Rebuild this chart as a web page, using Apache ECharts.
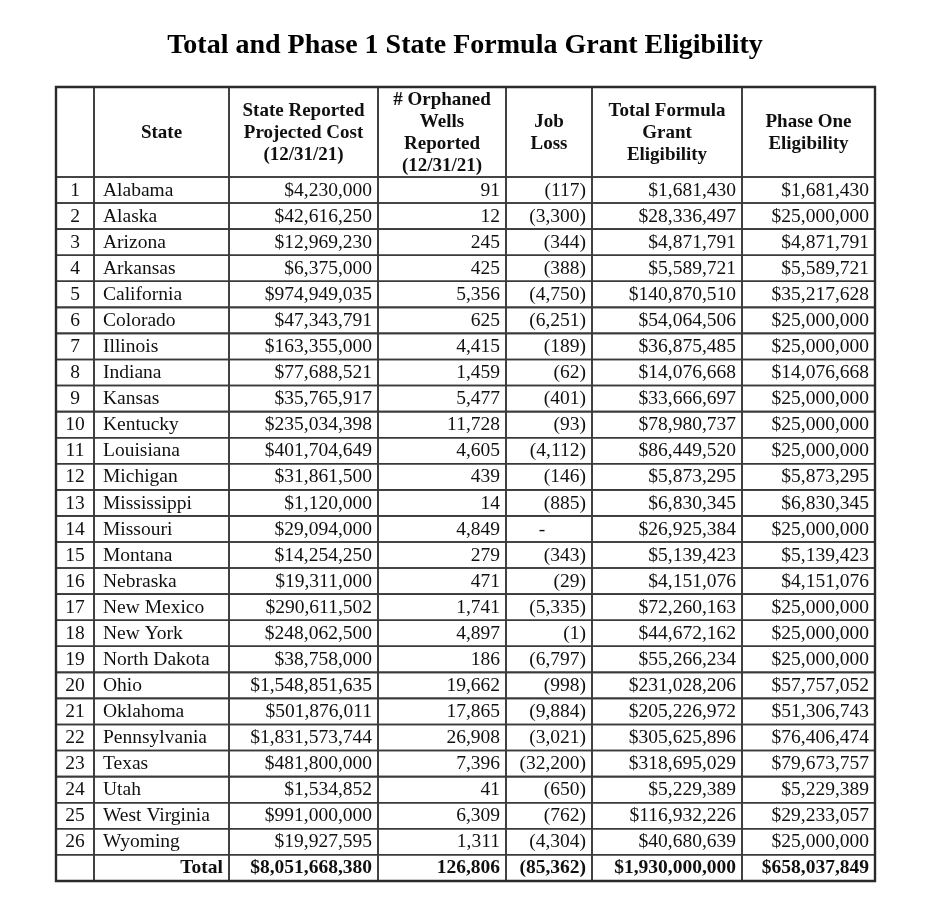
<!DOCTYPE html>
<html><head><meta charset="utf-8">
<script src="https://cdn.jsdelivr.net/npm/echarts@6/dist/echarts.min.js"></script>
<style>html,body{margin:0;background:#fff}#c{width:930px;height:910px}</style>
</head><body><div id="c"></div>
<script>
const rowNumbers = [1,2,3,4,5,6,7,8,9,10,11,12,13,14,15,16,17,18,19,20,21,22,23,24,25,26];
const states = ['Alabama','Alaska','Arizona','Arkansas','California','Colorado','Illinois','Indiana','Kansas','Kentucky','Louisiana','Michigan','Mississippi','Missouri','Montana','Nebraska','New Mexico','New York','North Dakota','Ohio','Oklahoma','Pennsylvania','Texas','Utah','West Virginia','Wyoming'];
const projectedCost = [4230000,42616250,12969230,6375000,974949035,47343791,163355000,77688521,35765917,235034398,401704649,31861500,1120000,29094000,14254250,19311000,290611502,248062500,38758000,1548851635,501876011,1831573744,481800000,1534852,991000000,19927595];
const orphanedWells = [91,12,245,425,5356,625,4415,1459,5477,11728,4605,439,14,4849,279,471,1741,4897,186,19662,17865,26908,7396,41,6309,1311];
const jobLoss = [-117,-3300,-344,-388,-4750,-6251,-189,-62,-401,-93,-4112,-146,-885,0,-343,-29,-5335,-1,-6797,-998,-9884,-3021,-32200,-650,-762,-4304];
const totalEligibility = [1681430,28336497,4871791,5589721,140870510,54064506,36875485,14076668,33666697,78980737,86449520,5873295,6830345,26925384,5139423,4151076,72260163,44672162,55266234,231028206,205226972,305625896,318695029,5229389,116932226,40680639];
const phaseOneEligibility = [1681430,25000000,4871791,5589721,35217628,25000000,25000000,14076668,25000000,25000000,25000000,5873295,6830345,25000000,5139423,4151076,25000000,25000000,25000000,57757052,51306743,76406474,79673757,5229389,29233057,25000000];
const totalLabel = 'Total';
const totalRow = [8051668380,126806,-85362,1930000000,658037849];
const headers = ['', 'State', 'State Reported\nProjected Cost\n(12/31/21)', '# Orphaned\nWells\nReported\n(12/31/21)', 'Job\nLoss', 'Total Formula\nGrant\nEligibility', 'Phase One\nEligibility'];
const titleText = 'Total and Phase 1 State Formula Grant Eligibility';

// layout (pixel units of the table scale)
const colEdges = [0,38,173,322,450,536,686,819];
const headerH = 90, rowH = 26.07, tableH = 794;
const FONT = "'Liberation Serif','Times New Roman',serif";
const INK = '#101010';
const LINE = '#3a3a3a';

const fmt = v => Math.abs(v).toLocaleString('en-US');
const money = v => '$' + fmt(v);
const loss = v => v === 0 ? '-' : '(' + fmt(v) + ')';

function cellsFor(i) {
  if (i === 0) return headers.map(h => ({text: h, align: 'center', bold: true, header: true}));
  if (i === states.length + 1) {
    return [
      {text: '', align: 'center'},
      {text: totalLabel, align: 'right', bold: true},
      {text: money(totalRow[0]), align: 'right', bold: true},
      {text: fmt(totalRow[1]), align: 'right', bold: true},
      {text: loss(totalRow[2]), align: 'right', bold: true},
      {text: money(totalRow[3]), align: 'right', bold: true},
      {text: money(totalRow[4]), align: 'right', bold: true}
    ];
  }
  const r = i - 1;
  return [
    {text: String(rowNumbers[r]), align: 'center'},
    {text: states[r], align: 'left'},
    {text: money(projectedCost[r]), align: 'right'},
    {text: fmt(orphanedWells[r]), align: 'right'},
    {text: loss(jobLoss[r]), align: jobLoss[r] === 0 ? 'dash' : 'right'},
    {text: money(totalEligibility[r]), align: 'right'},
    {text: money(phaseOneEligibility[r]), align: 'right'}
  ];
}

function renderRow(params, api) {
  const i = params.dataIndex;
  const y0 = i === 0 ? 0 : headerH + (i - 1) * rowH;
  const y1 = i === 0 ? headerH : headerH + i * rowH;
  const children = [];
  const cells = cellsFor(i);
  for (let c = 0; c < 7; c++) {
    const p0 = api.coord([colEdges[c], y0]);
    const p1 = api.coord([colEdges[c + 1], y1]);
    const x = p0[0], y = Math.min(p0[1], p1[1]);
    const w = p1[0] - p0[0], h = Math.abs(p1[1] - p0[1]);
    children.push({type: 'rect', shape: {x, y, width: w, height: h},
      style: {fill: 'none', stroke: LINE, lineWidth: 1.6}});
    const cell = cells[c];
    if (!cell.text) continue;
    let tx, al = cell.align;
    if (al === 'center') tx = x + w / 2;
    else if (al === 'left') tx = x + 9;
    else if (al === 'dash') { tx = x + w - 50; al = 'center'; }
    else tx = x + w - 6;
    children.push({type: 'text', style: {
      text: cell.text, x: tx, y: y + h / 2 + (cell.header ? 1 : 0.5),
      align: al, verticalAlign: 'middle',
      fontFamily: FONT, fontSize: cell.header ? 19 : 19.5,
      fontWeight: cell.bold ? 'bold' : 'normal',
      lineHeight: 22, fill: INK
    }});
  }
  return {type: 'group', children};
}

function renderBorder(params, api) {
  const p0 = api.coord([colEdges[0], 0]);
  const p1 = api.coord([colEdges[colEdges.length - 1], tableH]);
  return {type: 'rect', shape: {x: p0[0], y: p0[1], width: p1[0] - p0[0], height: p1[1] - p0[1]},
    style: {fill: 'none', stroke: '#2a2a2a', lineWidth: 2.4}};
}

const rowsData = [];
for (let i = 0; i < states.length + 2; i++) rowsData.push([0, i]);

const chart = echarts.init(document.getElementById('c'), null, {renderer: 'canvas'});
chart.setOption({
  animation: false,
  backgroundColor: '#fff',
  title: {text: titleText, left: 'center', top: 27,
    textStyle: {fontFamily: FONT, fontWeight: 'bold', fontSize: 28, color: '#000'}},
  grid: {left: 56, top: 87, width: 819, height: 794},
  xAxis: {type: 'value', min: 0, max: colEdges[colEdges.length - 1], show: false},
  yAxis: {type: 'value', min: 0, max: tableH, inverse: true, show: false},
  series: [
    {type: 'custom', renderItem: renderRow, data: rowsData, clip: false, silent: true},
    {type: 'custom', renderItem: renderBorder, data: [[0, 0]], clip: false, silent: true}
  ]
});
</script></body></html>
